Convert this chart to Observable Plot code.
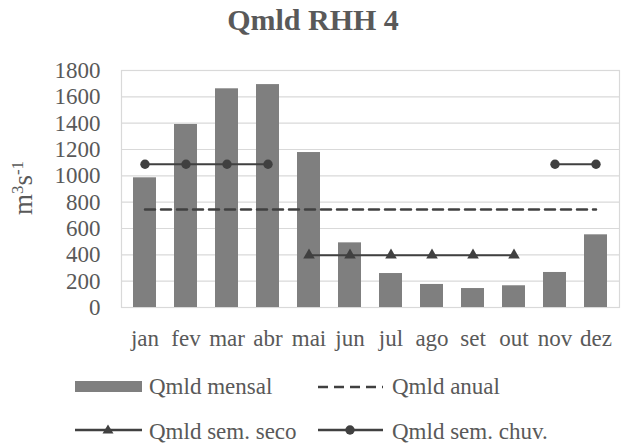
<!DOCTYPE html>
<html>
<head>
<meta charset="utf-8">
<script src="https://cdn.jsdelivr.net/npm/d3@7"></script>
<script src="https://cdn.jsdelivr.net/npm/@observablehq/plot@0.6"></script>
<style>
  html, body { margin: 0; padding: 0; background: #fff; }
  #wrap { position: relative; width: 634px; height: 446px; font-family: "Liberation Serif", "Times New Roman", serif; color: #595959; overflow: hidden; }
  #title { position: absolute; left: 0; width: 626px; top: 3px; text-align: center; font-weight: bold; font-size: 30px; line-height: 34px; }
  #chart { position: absolute; left: 0; top: 0; }
  #ylabel { position: absolute; left: 23px; top: 188px; transform: translate(-50%, -50%) rotate(-90deg); font-size: 27px; white-space: nowrap; line-height: 1; }
  #ylabel sup { font-size: 17px; vertical-align: 9px; line-height: 0; }
  .leg { position: absolute; font-size: 23px; line-height: 26px; white-space: nowrap; }
  .sw { position: absolute; }
</style>
</head>
<body>
<div id="wrap">
  <div id="chart"></div>
  <div id="title">Qmld RHH 4</div>
  <div id="ylabel">m<sup>3</sup>s<sup>-1</sup></div>
  <svg class="sw" style="left:70px;top:376px" width="80" height="70">
    <rect x="5" y="5" width="67" height="11" fill="#7f7f7f"></rect>
    <line x1="5" x2="72" y1="54" y2="54" stroke="#404040" stroke-width="2.5"></line>
    <path d="M38,48.5 L43.5,57.5 L32.5,57.5 Z" fill="#404040"></path>
  </svg>
  <svg class="sw" style="left:313px;top:376px" width="80" height="70">
    <line x1="5" x2="70" y1="11" y2="11" stroke="#404040" stroke-width="2.5" stroke-dasharray="10,6"></line>
    <line x1="5" x2="70" y1="54" y2="54" stroke="#404040" stroke-width="2.5"></line>
    <circle cx="37" cy="54" r="4.7" fill="#404040"></circle>
  </svg>
  <div class="leg" style="left:149px;top:374px">Qmld mensal</div>
  <div class="leg" style="left:392px;top:374px">Qmld anual</div>
  <div class="leg" style="left:149px;top:419px">Qmld sem. seco</div>
  <div class="leg" style="left:392px;top:419px">Qmld sem. chuv.</div>
</div>
<script>
const months = ["jan", "fev", "mar", "abr", "mai", "jun", "jul", "ago", "set", "out", "nov", "dez"];
const mensal = [985, 1390, 1661, 1693, 1177, 491, 258, 175, 144, 165, 266, 552];
const anual = [744, 744, 744, 744, 744, 744, 744, 744, 744, 744, 744, 744];
const semSeco = [null, null, null, null, 397, 397, 397, 397, 397, 397, null, null];
const semChuv = [1088, 1088, 1088, 1088, null, null, null, null, null, null, 1088, 1088];
const yTicks = [0, 200, 400, 600, 800, 1000, 1200, 1400, 1600, 1800];

const rows = months.map((m, i) => ({
  month: m, mensal: mensal[i], anual: anual[i], seco: semSeco[i], chuv: semChuv[i]
}));

const chart = Plot.plot({
  width: 634,
  height: 360,
  marginTop: 70,
  marginBottom: 53,
  marginLeft: 121,
  marginRight: 15,
  style: { fontFamily: "'Liberation Serif', 'Times New Roman', serif", fontSize: "23px", color: "#595959", background: "transparent" },
  x: { type: "band", domain: months, paddingInner: 0.43, paddingOuter: 0.215, align: 0.5, label: null, tickSize: 0, tickPadding: 22 },
  y: { domain: [0, 1800], ticks: yTicks, tickFormat: d => String(d), label: null, tickSize: 0, tickPadding: 21 },
  marks: [
    Plot.gridY(yTicks, { stroke: "#d9d9d9", strokeOpacity: 1, strokeWidth: 1.2 }),
    Plot.frame({ stroke: "#d9d9d9", strokeWidth: 1.2 }),
    Plot.barY(rows, { x: "month", y: "mensal", fill: "#7f7f7f" }),
    Plot.lineY(rows, { x: "month", y: "anual", stroke: "#404040", strokeWidth: 2.5, strokeDasharray: "10,6" }),
    Plot.lineY(rows, { x: "month", y: "seco", stroke: "#404040", strokeWidth: 2.2 }),
    Plot.dot(rows, { x: "month", y: "seco", symbol: "triangle", r: 4.3, fill: "#404040", stroke: "none" }),
    Plot.lineY(rows, { x: "month", y: "chuv", stroke: "#404040", strokeWidth: 2.2 }),
    Plot.dot(rows, { x: "month", y: "chuv", r: 4.7, fill: "#404040", stroke: "none" })
  ]
});
document.getElementById("chart").appendChild(chart);
</script>
</body>
</html>
